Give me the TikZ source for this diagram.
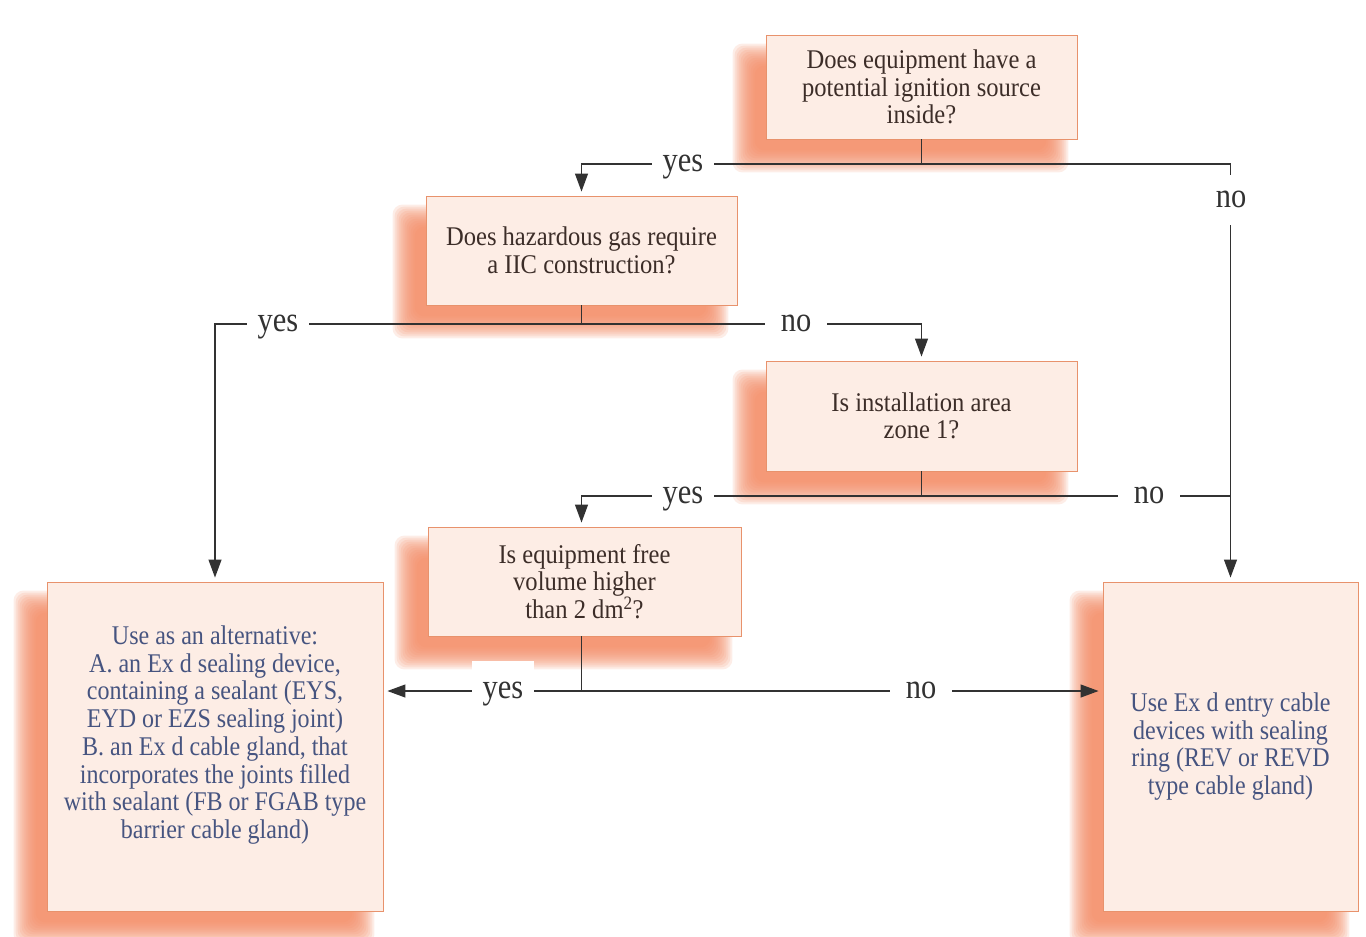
\documentclass[tikz,border=0pt]{standalone}
\usepackage{fontspec}
\setmainfont{Liberation Serif}[FakeStretch=0.89]
\newfontfamily\qfont{Liberation Serif}[FakeStretch=0.91]
\newfontfamily\lblfont{Liberation Serif}[FakeStretch=0.87]
\usetikzlibrary{arrows.meta,calc}
\definecolor{boxfill}{RGB}{253,237,229}
\definecolor{boxline}{RGB}{232,146,108}
\definecolor{shadowc}{RGB}{245,140,100}
\definecolor{qtext}{RGB}{60,45,40}
\definecolor{btext}{RGB}{70,84,128}
\definecolor{linec}{RGB}{50,50,50}
\pgfdeclarelayer{bg}
\pgfsetlayers{bg,main}
\newcommand\softshadow[1]{%
  \foreach \ee in {12,10,...,-10}{%
    \fill[shadowc, opacity=0.15, rounded corners=10pt]
      ($(#1.north west)+(-21-\ee,21-\ee)$) rectangle ($(#1.south east)+(-21+\ee,21+\ee)$);
  }%
}
\tikzset{
  box/.style={draw=boxline, fill=boxfill, line width=0.9pt, inner sep=0pt, align=center,
    font=\qfont\fontsize{27}{27.6}\selectfont, text=qtext},
  bodytext/.style={align=center, inner sep=0pt, font=\fontsize{27}{27.7}\selectfont, text=btext},
  conn/.style={draw=linec, line width=1.2pt},
  arr/.style={-{Triangle[length=18pt,width=13pt]}, shorten >=4pt},
  lbl/.style={fill=white, font=\lblfont\fontsize{35}{35}\selectfont, text=linec,
    minimum width=62pt, inner xsep=0pt, inner ysep=12pt, text height=25.7pt, text depth=10pt},
}
\begin{document}
\begin{tikzpicture}[x=1pt,y=-1pt]
\useasboundingbox (0,0) rectangle (1366,937);

% boxes
\node[box, minimum width=311pt, minimum height=104pt] (b1) at (921.5,87)
  {Does equipment have a\\potential ignition source\\inside?};
\node[box, minimum width=311pt, minimum height=109pt] (b2) at (581.5,250.5)
  {Does hazardous gas require\\a IIC construction?};
\node[box, minimum width=311pt, minimum height=110pt] (b3) at (921.5,416)
  {Is installation area\\zone 1?};
\node[box, minimum width=313pt, minimum height=109pt] (b4) at (584.5,581.5)
  {Is equipment free\\volume higher\\than 2 dm\textsuperscript{2}?};
\node[box, minimum width=336pt, minimum height=329pt] (b5) at (215,746.5) {};
\node[bodytext] (t5) at (215,735)
  {Use as an alternative:\\A. an Ex d sealing device,\\containing a sealant (EYS,\\EYD or EZS sealing joint)\\B. an Ex d cable gland, that\\incorporates the joints filled\\with sealant (FB or FGAB type\\barrier cable gland)};
\node[box, minimum width=255pt, minimum height=329pt, text=btext,
  font=\fontsize{27}{27.7}\selectfont] (b6) at (1230.5,746.5)
  {Use Ex d entry cable\\devices with sealing\\ring (REV or REVD\\type cable gland)};

\begin{pgfonlayer}{bg}
  \fill[white] (0,0) rectangle (1366,937);
  \softshadow{b1}
  \softshadow{b2}
  \softshadow{b3}
  \softshadow{b4}
  \softshadow{b5}
  \softshadow{b6}
\end{pgfonlayer}

% junctions
\coordinate (j1) at (921.5,164);
\coordinate (j2) at (581.5,324);
\coordinate (j3) at (921.5,496);
\coordinate (m3) at (1230.5,496);
\coordinate (j4) at (581.5,691);

% connectors
\draw[conn] (b1.south) -- (j1);
\draw[conn,arr] (j1) -| (b2.north);
\draw[conn,arr] (j1) -| (b6.north);
\draw[conn] (b2.south) -- (j2);
\draw[conn,arr] (j2) -| (b5.north);
\draw[conn,arr] (j2) -| (b3.north);
\draw[conn] (b3.south) -- (j3);
\draw[conn,arr] (j3) -| ([xshift=-3pt]b4.north);
\draw[conn] (j3) -- (m3);
\draw[conn] ([xshift=-3pt]b4.south) -- (j4);
\draw[conn,arr] (j4) -- (j4 -| b5.east);
\draw[conn,arr] (j4) -- (j4 -| b6.west);

% labels
\node[lbl] (l1) at (683,164) {yes};
\node[lbl, inner ysep=7pt] (l2) at (1231,200) {no};
\node[lbl] (l3) at (278,324) {yes};
\node[lbl] (l4) at (796,324) {no};
\node[lbl] (l5) at (683,496) {yes};
\node[lbl] (l6) at (1149,496) {no};
\node[lbl] (l7) at (503,691) {yes};
\node[lbl] (l8) at (921,691) {no};
\end{tikzpicture}
\end{document}
